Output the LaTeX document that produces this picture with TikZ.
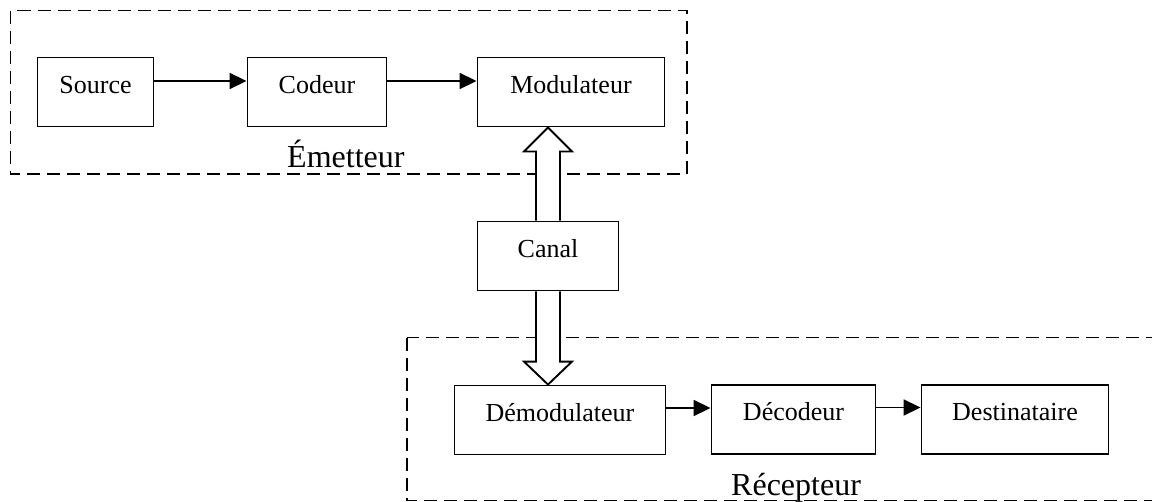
\documentclass[tikz,border=0pt]{standalone}
\usepackage{fontspec}
\setmainfont{Liberation Serif}
\usetikzlibrary{arrows.meta,calc,backgrounds}
\tikzset{
  block/.style={draw, line width=1.9pt, inner sep=0pt, font=\fontsize{26}{28}\selectfont,
                text height=20pt, text depth=18pt, minimum height=69pt},
  flow/.style={line width=1.8pt, -{Triangle[length=17pt,width=16pt]}},
  group/.style={draw, line width=1.8pt, dash pattern=on 13pt off 7pt},
  grouplabel/.style={anchor=base west, inner sep=0pt, font=\fontsize{32}{34}\selectfont},
  fatarrow/.style={draw, line width=1.9pt, fill=white, line join=miter},
}
\begin{document}
\begin{tikzpicture}[x=1pt,y=-1pt]
\useasboundingbox (0,0) rectangle (1152,501);

% transmitter chain
\node[block, minimum width=116pt] (src) at (95.5,92) {Source};
\node[block, minimum width=139pt] (cod) at (317,92) {Codeur};
\node[block, minimum width=187pt] (mod) at (571,92) {Modulateur};

% channel
\node[block, minimum width=141pt] (can) at (548,256) {Canal};

% receiver chain
\node[block, minimum width=211pt] (dem) at (560,420) {Démodulateur};
\node[block, minimum width=164pt] (dec) at (793.5,419.5) {Décodeur};
\node[block, minimum width=187pt] (dst) at (1015,419.5) {Destinataire};

% signal flow
\draw[flow] ([yshift=11pt]src.east) -- ([yshift=11pt]src.east -| cod.west);
\draw[flow] ([yshift=11pt]cod.east) -- ([yshift=11pt]cod.east -| mod.west);
\draw[flow] ([yshift=12pt]dem.east) -- ([yshift=12pt]dem.east -| dec.west);
\draw[flow] ([yshift=12pt]dec.east) -- ([yshift=12pt]dec.east -| dst.west);

\begin{scope}[on background layer]
  % transmitter and receiver groups
  \draw[group] (10.5,10.5) rectangle (687,174);
  \node[grouplabel] (emlabel) at (287,167) {Émetteur};
  \draw[group] (407,337.5) rectangle (1170,500.5);
  \node[grouplabel] (reclabel) at (731,495) {Récepteur};

  % wide hollow arrows through the channel
  \coordinate (upbase) at (can.north);
  \coordinate (uptip) at (can.north |- mod.south);
  \draw[fatarrow] ($(upbase)+(-12,0)$) -- ($(uptip)+(-12,24)$) -- ($(uptip)+(-24,24)$)
     -- (uptip) -- ($(uptip)+(24,24)$) -- ($(uptip)+(12,24)$) -- ($(upbase)+(12,0)$);
  \coordinate (dnbase) at (can.south);
  \coordinate (dntip) at (can.south |- dem.north);
  \draw[fatarrow] ($(dnbase)+(-12,0)$) -- ($(dntip)+(-12,-23)$) -- ($(dntip)+(-24,-23)$)
     -- (dntip) -- ($(dntip)+(24,-23)$) -- ($(dntip)+(12,-23)$) -- ($(dnbase)+(12,0)$);
\end{scope}
\end{tikzpicture}
\end{document}
